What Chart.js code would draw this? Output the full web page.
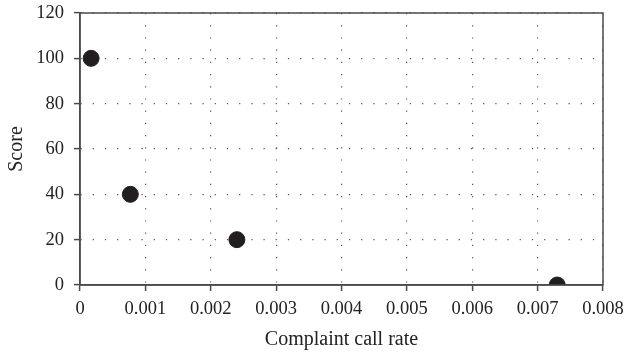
<!DOCTYPE html>
<html>
<head>
<meta charset="utf-8">
<script src="https://cdn.jsdelivr.net/npm/chart.js@4.4.0/dist/chart.umd.min.js"></script>
<style>
  html, body { margin: 0; padding: 0; background: #fff; }
  #wrap { width: 626px; height: 358px; }
</style>
</head>
<body>
<div id="wrap"><canvas id="myChart" width="626" height="358"></canvas></div>
<script>
const rates = [0.00017, 0.00077, 0.0024, 0.0073];
const scores = [100, 40, 20, 0];
const xTicks = [0, 0.001, 0.002, 0.003, 0.004, 0.005, 0.006, 0.007, 0.008];
const yTicks = [0, 20, 40, 60, 80, 100, 120];

const points = rates.map((r, i) => ({ x: r, y: scores[i] }));

// frame around plot area (top and right edges)
const frame = {
  id: 'frame',
  afterDraw(chart) {
    const a = chart.chartArea, ctx = chart.ctx;
    ctx.save();
    ctx.strokeStyle = '#4a4a4a';
    ctx.lineWidth = 1.5;
    ctx.strokeRect(a.left, a.top, a.right - a.left, a.bottom - a.top);
    ctx.restore();
  }
};

const tickFont = { family: '"Liberation Serif", "DejaVu Serif", serif', size: 18.5 };
const titleFont = { family: '"Liberation Serif", "DejaVu Serif", serif', size: 20 };

new Chart(document.getElementById('myChart'), {
  type: 'scatter',
  data: {
    datasets: [{
      data: points,
      backgroundColor: '#231f20',
      borderColor: '#231f20',
      pointRadius: 8,
      pointHoverRadius: 8
    }]
  },
  options: {
    responsive: false,
    animation: false,
    layout: { padding: { top: 13, right: 23, left: 0, bottom: 0 } },
    plugins: { legend: { display: false }, tooltip: { enabled: false } },
    scales: {
      x: {
        type: 'linear',
        min: 0, max: 0.008,
        afterBuildTicks: s => { s.ticks = xTicks.map(v => ({ value: v })); },
        afterFit: s => { s.height = 73; s.paddingLeft = 0; s.paddingRight = 0; },
        ticks: {
          color: '#222', font: tickFont, padding: 7, maxRotation: 0,
          callback: v => v === 0 ? '0' : v.toFixed(3)
        },
        grid: { color: '#555', lineWidth: 1.2, tickLength: 6, tickColor: '#4a4a4a', tickWidth: 1.5 },
        border: { color: '#4a4a4a', width: 1.5, dash: [1.2, 11] },
        title: { display: true, text: 'Complaint call rate', color: '#222', font: titleFont, padding: { top: 4, bottom: 6 } }
      },
      y: {
        min: 0, max: 120,
        afterBuildTicks: s => { s.ticks = yTicks.map(v => ({ value: v })); },
        afterFit: s => { s.width = 80; s.paddingTop = 0; s.paddingBottom = 0; },
        ticks: { color: '#222', font: tickFont, padding: 10 },
        grid: { color: '#555', lineWidth: 1.2, tickLength: 6, tickColor: '#4a4a4a', tickWidth: 1.5 },
        border: { color: '#4a4a4a', width: 1.5, dash: [1.2, 11] },
        title: { display: true, text: 'Score', color: '#222', font: titleFont, padding: { top: 5, bottom: 4 } }
      }
    }
  },
  plugins: [frame]
});
</script>
</body>
</html>
